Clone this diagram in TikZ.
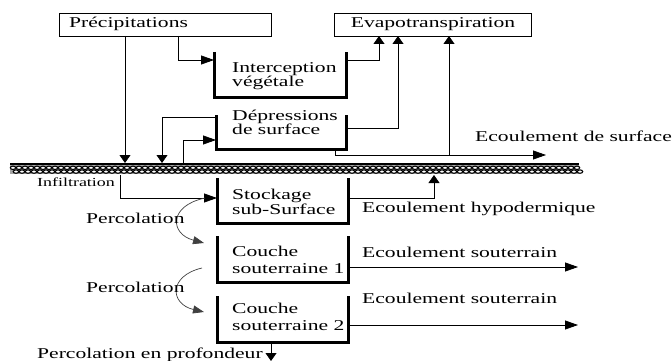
\documentclass[tikz,border=0pt]{standalone}
\usepackage{fontspec}
\setmainfont{Liberation Serif}[FakeStretch=1.44]
\usetikzlibrary{arrows.meta}
\tikzset{
 conn/.style={line width=0.8pt},
 ha/.style={conn,-{Triangle[length=13pt,width=9pt]}},
 va/.style={conn,-{Triangle[length=8pt,width=11pt]}},
 ca/.style={line width=0.7pt, draw=black!75, -{Triangle[length=11pt,width=8pt]}},
 tank/.style={line width=3pt, line join=miter},
 txt/.style={inner sep=0pt, anchor=base west, font=\fontsize{15}{15}\selectfont},
 box/.style={draw, line width=0.8pt, inner sep=0pt, anchor=north west},
}
\begin{document}
\begin{tikzpicture}[x=1pt,y=-1pt]
\useasboundingbox (0,0) rectangle (672,361);
% boxes
\node[box, minimum width=212pt, minimum height=23pt] (prec) at (59,13) {};
\node[txt] (prectxt) at (69,28) {Précipitations};
\node[box, minimum width=197pt, minimum height=23pt] (evap) at (334,13) {};
\node[txt, anchor=base] (evaptxt) at (433,28) {Evapotranspiration};
% tanks
\draw[tank] (214,52) |- (346,97) -- (346,52);
\draw[tank] (216,115) |- (346,149) -- (346,115);
\draw[tank] (217,178) |- (348,223) -- (348,178);
\draw[tank] (217,236) |- (348,282) -- (348,236);
\draw[tank] (217,296) |- (348,342) -- (348,296);
\node[txt] (t1a) at (232,73) {Interception};
\node[txt] (t1b) at (232,87) {végétale};
\node[txt] (t2a) at (232,120) {Dépressions};
\node[txt] (t2b) at (232,134) {de surface};
\node[txt] (t3a) at (232,199) {Stockage};
\node[txt] (t3b) at (232,214) {sub-Surface};
\node[txt] (t4a) at (232,256) {Couche};
\node[txt] (t4b) at (232,273) {souterraine 1};
\node[txt] (t5a) at (232,313) {Couche};
\node[txt] (t5b) at (232,330) {souterraine 2};
% ground band
\fill[black!35] (10,164) rectangle (579,174);
\draw[line width=2pt] (10,164) -- (579,164);
\foreach \i in {0,...,94} {
  \draw[line width=1.1pt, fill=white] (13+6*\i,167.8) ellipse [x radius=2.7, y radius=1.7];
  \draw[line width=1.1pt, fill=white] (16+6*\i,171.6) ellipse [x radius=2.7, y radius=1.7];
}
% coordinates
\coordinate (p1) at (178,36);
\coordinate (t1in) at (214,60);
\coordinate (t1out) at (346,60);
\coordinate (ev1) at (379,36);
\coordinate (t2out) at (346,128);
\coordinate (ev2) at (398,36);
\coordinate (p2) at (125,36);
\coordinate (g1) at (125,163);
\coordinate (t2l) at (216,117);
\coordinate (g2) at (162,163);
\coordinate (g3) at (183,164);
\coordinate (t2in) at (216,140);
\coordinate (t2b) at (335,149);
\coordinate (s1) at (335,155);
\coordinate (s2) at (546,155);
\coordinate (s3) at (449,155);
\coordinate (ev3) at (449,36);
\coordinate (i1) at (120,175);
\coordinate (t3in) at (217,198);
\coordinate (t3out) at (348,198);
\coordinate (h1) at (434,175);
\coordinate (t4out) at (348,267);
\coordinate (e4) at (578,267);
\coordinate (t5out) at (348,325);
\coordinate (e5) at (578,325);
\coordinate (t5b) at (271,342);
\coordinate (deep) at (271,361);
% connectors
\draw[ha] (p1) |- (t1in);
\draw[va] (t1out) -| (ev1);
\draw[va] (t2out) -| (ev2);
\draw[va] (p2) -- (g1);
\draw[va] (t2l) -| (g2);
\draw[ha] (g3) |- (t2in);
\draw[conn] (t2b) -- (s1);
\draw[ha] (s1) -- (s2);
\draw[va] (s3) -- (ev3);
\draw[ha] (i1) |- (t3in);
\draw[va] (t3out) -| (h1);
\draw[ha] (t4out) -- (e4);
\draw[ha] (t5out) -- (e5);
\draw[va] (t5b) -- (deep);
% percolation curves
\coordinate (c1a) at (205,198);
\coordinate (c1b) at (204,243);
\coordinate (c2a) at (202,268);
\coordinate (c2b) at (204,312);
\draw[ca] (c1a) .. controls (168,206) and (170,234) .. (c1b);
\draw[ca] (c2a) .. controls (168,276) and (170,304) .. (c2b);
% labels
\node[txt] (lsurf) at (475,141) {Ecoulement de surface};
\node[txt] (linf) at (37,186) {\scalebox{0.83}[0.82]{Infiltration}};
\node[txt] (lperc1) at (86,223) {Percolation};
\node[txt] (lperc2) at (86,292) {Percolation};
\node[txt] (lhypo) at (362,212) {Ecoulement hypodermique};
\node[txt] (lsout1) at (362,257) {Ecoulement souterrain};
\node[txt] (lsout2) at (362,303) {Ecoulement souterrain};
\node[txt] (ldeep) at (37,358) {Percolation en profondeur};
\end{tikzpicture}
\end{document}
